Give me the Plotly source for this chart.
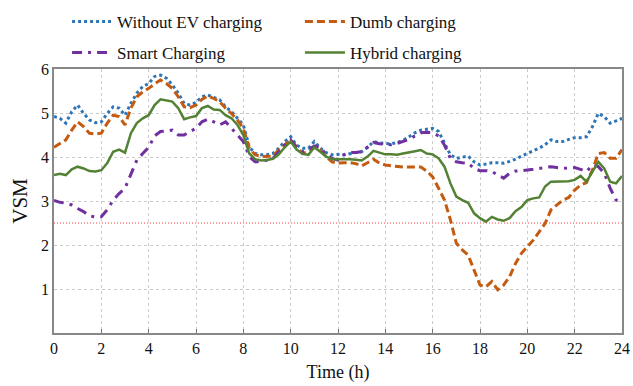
import plotly.graph_objects as go

# ---- data (time step 0.25 h) ----
time_h = [i * 0.25 for i in range(97)]

without_ev = [4.92, 4.88, 4.77, 5.03, 5.18, 4.99, 4.84, 4.78, 4.80, 4.99, 5.14, 5.11, 4.95,
              5.22, 5.45, 5.60, 5.67, 5.83, 5.86, 5.79, 5.64, 5.45, 5.22, 5.18, 5.24,
              5.37, 5.41, 5.36, 5.30, 5.14, 5.03, 4.88, 4.73, 4.23, 4.08, 4.05, 4.05,
              4.08, 4.20, 4.35, 4.46, 4.27, 4.20, 4.20, 4.35, 4.20, 4.10, 4.05, 4.06,
              4.05, 4.08, 4.10, 4.12, 4.22, 4.35, 4.32, 4.31, 4.30, 4.33, 4.38, 4.46,
              4.55, 4.61, 4.63, 4.65, 4.58, 4.31, 4.05, 3.97, 4.00, 4.02, 3.89, 3.82,
              3.84, 3.87, 3.87, 3.86, 3.90, 3.95, 4.02, 4.08, 4.14, 4.20, 4.28, 4.39,
              4.35, 4.35, 4.40, 4.44, 4.44, 4.46, 4.69, 4.99, 4.92, 4.77, 4.82, 4.88]

dumb = [4.22, 4.30, 4.39, 4.61, 4.80, 4.69, 4.54, 4.52, 4.54, 4.77, 4.95, 4.92, 4.73,
        5.11, 5.37, 5.48, 5.56, 5.66, 5.75, 5.67, 5.56, 5.37, 5.14, 5.12, 5.18,
        5.31, 5.39, 5.33, 5.26, 5.11, 4.99, 4.84, 4.65, 4.20, 4.05, 4.01, 4.01,
        4.02, 4.16, 4.27, 4.39, 4.23, 4.08, 4.12, 4.22, 4.16, 4.01, 3.89, 3.86,
        3.87, 3.87, 3.85, 3.80, 3.87, 3.95, 3.86, 3.82, 3.80, 3.78, 3.77, 3.77,
        3.77, 3.77, 3.68, 3.55, 3.29, 3.02, 2.57, 2.04, 1.89, 1.77, 1.43, 1.09,
        1.05, 1.17, 0.98, 1.09, 1.28, 1.58, 1.81, 1.96, 2.11, 2.30, 2.49, 2.80,
        2.91, 3.02, 3.08, 3.25, 3.36, 3.42, 3.70, 4.08, 4.10, 3.97, 3.97, 4.17]

smart = [3.01, 2.97, 2.95, 2.91, 2.83, 2.76, 2.66, 2.64, 2.64, 2.80, 3.02, 3.17, 3.29,
         3.63, 3.93, 4.08, 4.22, 4.48, 4.58, 4.59, 4.61, 4.50, 4.50, 4.58, 4.65,
         4.80, 4.86, 4.80, 4.73, 4.80, 4.65, 4.50, 4.35, 4.01, 3.89, 3.89, 3.93,
         3.97, 4.12, 4.27, 4.39, 4.22, 4.12, 4.17, 4.25, 4.23, 4.05, 3.97, 3.93,
         4.05, 4.10, 4.10, 4.12, 4.22, 4.33, 4.30, 4.29, 4.28, 4.31, 4.35, 4.40,
         4.48, 4.55, 4.56, 4.55, 4.48, 4.27, 3.97, 3.89, 3.87, 3.86, 3.74, 3.69,
         3.69, 3.67, 3.59, 3.52, 3.63, 3.68, 3.69, 3.70, 3.72, 3.74, 3.76, 3.78,
         3.76, 3.74, 3.75, 3.76, 3.72, 3.67, 3.82, 3.78, 3.63, 3.29, 3.02, 2.98]

hybrid = [3.59, 3.62, 3.59, 3.72, 3.78, 3.74, 3.68, 3.67, 3.70, 3.86, 4.12, 4.17, 4.10,
          4.54, 4.77, 4.88, 4.95, 5.18, 5.31, 5.28, 5.26, 5.11, 4.86, 4.90, 4.93,
          5.11, 5.16, 5.08, 5.07, 4.95, 4.88, 4.73, 4.50, 4.08, 3.95, 3.92, 3.93,
          3.96, 4.06, 4.22, 4.35, 4.17, 4.07, 4.05, 4.22, 4.12, 4.01, 3.95, 3.95,
          3.96, 3.95, 3.94, 3.92, 4.01, 4.14, 4.10, 4.06, 4.06, 4.05, 4.08, 4.10,
          4.13, 4.16, 4.08, 4.06, 3.97, 3.78, 3.40, 3.10, 3.02, 2.96, 2.72, 2.61,
          2.53, 2.64, 2.58, 2.55, 2.61, 2.77, 2.86, 3.02, 3.06, 3.08, 3.33, 3.44,
          3.44, 3.44, 3.45, 3.48, 3.57, 3.44, 3.67, 3.89, 3.74, 3.44, 3.40, 3.57]

THRESHOLD = 2.5
x_ticks = list(range(0, 25, 2))
y_ticks = [1, 2, 3, 4, 5, 6]

FONT = "Liberation Serif, Times New Roman, serif"

fig = go.Figure()
fig.add_trace(go.Scatter(x=time_h, y=without_ev, mode="lines", name="Without EV charging",
                         line=dict(color="#2E75B6", width=3, dash="3px,3px"),
                         legend="legend", showlegend=True))
fig.add_trace(go.Scatter(x=time_h, y=dumb, mode="lines", name="Dumb charging",
                         line=dict(color="#C55A11", width=3, dash="8px,4px"),
                         legend="legend2", showlegend=True))
fig.add_trace(go.Scatter(x=time_h, y=smart, mode="lines", name="Smart Charging",
                         line=dict(color="#7030A0", width=3, dash="10px,6px,3px,6px"),
                         legend="legend3", showlegend=True))
fig.add_trace(go.Scatter(x=time_h, y=hybrid, mode="lines", name="Hybrid charging",
                         line=dict(color="#548235", width=2.5),
                         legend="legend4", showlegend=True))

fig.add_hline(y=THRESHOLD, line=dict(color="#FF4040", width=1, dash="1px,2px"), layer="below")

legend_common = dict(orientation="h", xanchor="left", yanchor="middle",
                     font=dict(family=FONT, size=17, color="#111"),
                     bgcolor="rgba(0,0,0,0)", itemwidth=40, borderwidth=0, visible=True)

col1, col2 = 0.023, 0.433
row1, row2 = 1.178, 1.061

fig.update_layout(
    width=633, height=386,
    showlegend=True,
    margin=dict(l=54, r=11, t=69, b=53, autoexpand=False),
    paper_bgcolor="white", plot_bgcolor="white",
    font=dict(family=FONT, size=16, color="#111"),
    legend=dict(x=col1, y=row1, **legend_common),
    legend2=dict(x=col2, y=row1, **legend_common),
    legend3=dict(x=col1, y=row2, **legend_common),
    legend4=dict(x=col2, y=row2, **legend_common),
    xaxis=dict(range=[0, 24], tickvals=x_ticks, ticks="inside", ticklen=4, tickcolor="#777",
               showline=True, linecolor="#888", linewidth=1.5, mirror=True,
               showgrid=True, gridcolor="#CCCCCC", griddash="dot", gridwidth=1,
               zeroline=False, tickfont=dict(size=16),
               title=dict(text="Time (h)", font=dict(size=18), standoff=9)),
    yaxis=dict(range=[0, 6], tickvals=y_ticks, ticks="", showline=True, linecolor="#888",
               linewidth=1.5, mirror=True,
               showgrid=True, gridcolor="#CCCCCC", griddash="dot", gridwidth=1,
               zeroline=False, tickfont=dict(size=16),
               title=dict(text="VSM", font=dict(size=21), standoff=8)),
)

fig.write_html("out.html")
